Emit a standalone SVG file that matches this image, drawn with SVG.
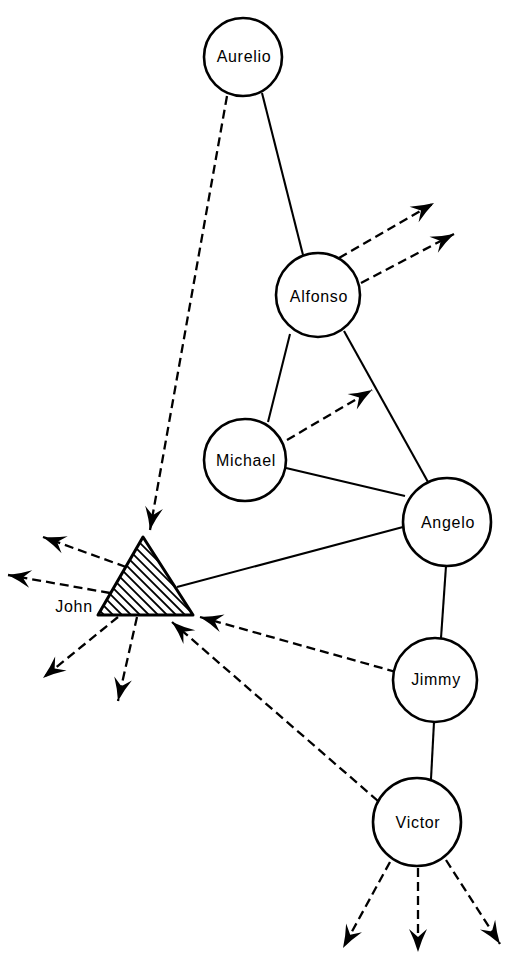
<svg xmlns="http://www.w3.org/2000/svg" width="506" height="965" viewBox="0 0 506 965">
<style>
.node{fill:#fff;stroke:#000;stroke-width:2.6}
.lbl{font-family:"Liberation Sans",Arial,sans-serif;font-size:16px;letter-spacing:0.7px;fill:#000;text-anchor:middle}
.solid{stroke:#000;stroke-width:2.1;fill:none}
.dash{stroke:#000;stroke-width:2.3;fill:none;stroke-dasharray:9 5;marker-end:url(#ah)}
.hatch{stroke:#000;stroke-width:1.8}
</style>
<defs>
<marker id="ah" markerUnits="userSpaceOnUse" markerWidth="30" markerHeight="24" viewBox="-26 -12 30 24" refX="0" refY="0" orient="auto">
<path d="M0,0 Q-12,-3.5 -23,-9 L-15,0 L-23,9 Q-12,3.5 0,0 Z" fill="#000"/>
</marker>
<clipPath id="tri"><polygon points="143,537 98,615 193,615"/></clipPath>
</defs>
<rect width="506" height="965" fill="#fff"/>
<g id="connectors">
<line class="solid" x1="262" y1="93" x2="303" y2="255"/>
<line class="solid" x1="290" y1="334" x2="268" y2="422"/>
<line class="solid" x1="344" y1="331" x2="428" y2="482"/>
<line class="solid" x1="286" y1="468" x2="405" y2="496"/>
<line class="solid" x1="177" y1="587" x2="403" y2="527"/>
<line class="solid" x1="446" y1="566" x2="441" y2="638"/>
<line class="solid" x1="434" y1="722" x2="431" y2="779"/>
<path class="dash" d="M227,96 L150,530"/>
<path class="dash" d="M339,258 L434,203"/>
<path class="dash" d="M361,283 L454,234"/>
<path class="dash" d="M287,440 L372,390"/>
<path class="dash" d="M396,672 L200,617"/>
<path class="dash" d="M378,801 L172,622"/>
<path class="dash" d="M390,862 L343,948"/>
<path class="dash" d="M418,868 L418,952"/>
<path class="dash" d="M446,860 L500,944"/>
<path class="dash" d="M126,567 L43,537"/>
<path class="dash" d="M110,593 L8,575"/>
<path class="dash" d="M118,617 L43,678"/>
<path class="dash" d="M137,617 L118,701"/>
</g>
<g id="Aurelio"><circle class="node" cx="243" cy="57" r="39"/><text class="lbl" x="244" y="62">Aurelio</text></g>
<g id="Alfonso"><circle class="node" cx="318" cy="295" r="42"/><text class="lbl" x="319" y="302">Alfonso</text></g>
<g id="Michael"><circle class="node" cx="245" cy="460" r="41"/><text class="lbl" x="246" y="466">Michael</text></g>
<g id="Angelo"><circle class="node" cx="447" cy="522" r="44"/><text class="lbl" x="448" y="528">Angelo</text></g>
<g id="Jimmy"><circle class="node" cx="435" cy="680" r="42"/><text class="lbl" x="436" y="685">Jimmy</text></g>
<g id="Victor"><circle class="node" cx="417" cy="822" r="44"/><text class="lbl" x="418" y="828">Victor</text></g>
<g id="John">
<g clip-path="url(#tri)">
<line class="hatch" x1="14" y1="525" x2="104" y2="615"/>
<line class="hatch" x1="23" y1="525" x2="113" y2="615"/>
<line class="hatch" x1="32" y1="525" x2="122" y2="615"/>
<line class="hatch" x1="41" y1="525" x2="131" y2="615"/>
<line class="hatch" x1="50" y1="525" x2="140" y2="615"/>
<line class="hatch" x1="59" y1="525" x2="149" y2="615"/>
<line class="hatch" x1="68" y1="525" x2="158" y2="615"/>
<line class="hatch" x1="77" y1="525" x2="167" y2="615"/>
<line class="hatch" x1="86" y1="525" x2="176" y2="615"/>
<line class="hatch" x1="95" y1="525" x2="185" y2="615"/>
<line class="hatch" x1="104" y1="525" x2="194" y2="615"/>
<line class="hatch" x1="113" y1="525" x2="203" y2="615"/>
<line class="hatch" x1="122" y1="525" x2="212" y2="615"/>
<line class="hatch" x1="131" y1="525" x2="221" y2="615"/>
</g>
<polygon points="143,537 98,615 193,615" fill="none" stroke="#000" stroke-width="3" stroke-linejoin="round"/>
<text class="lbl" x="74" y="612">John</text>
</g>
</svg>
